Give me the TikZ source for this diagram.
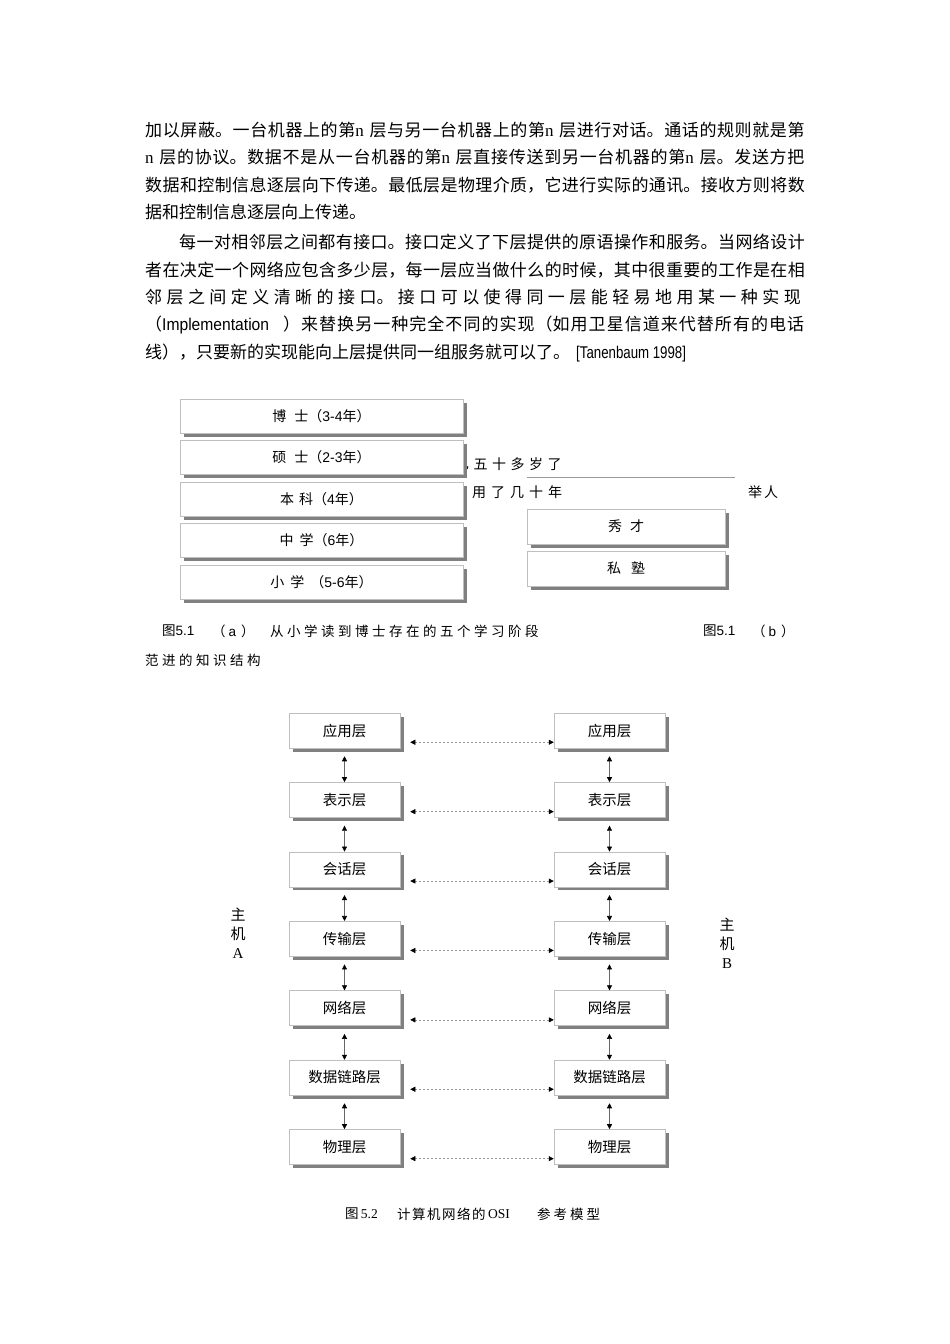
\documentclass[tikz,border=0pt]{standalone}
\usepackage{fontspec}
\setmainfont{Liberation Serif}
\setsansfont{Liberation Sans}
\newfontfamily\cjk{Noto Sans CJK SC}
\newfontfamily\narrow{Liberation Sans}[FakeStretch=0.92]
\newfontfamily\tightsans{Liberation Sans}[FakeStretch=0.78]
\usetikzlibrary{arrows.meta,shadows}
\newcommand\jsetup{\parindent=0pt\parfillskip=0pt\relax\leftskip=0pt\relax\rightskip=0pt\relax\XeTeXlinebreaklocale "zh"\XeTeXlinebreakskip=0pt plus 1fil\relax\XeTeXlinebreakpenalty=10000\relax\hbadness=10000\relax}
\newcommand\trk[2]{\parindent=0pt\relax\XeTeXlinebreaklocale "zh"\XeTeXlinebreakskip=#1\relax\XeTeXlinebreakpenalty=10000\relax #2}
\tikzset{
  bodytxt/.style={anchor=west, inner sep=0pt, font=\cjk\fontsize{17}{20}\selectfont},
  jl/.style={bodytxt, text width=#1},
  captxt/.style={anchor=west, inner sep=0pt, font=\cjk\fontsize{13.5}{16}\selectfont},
  tcaptxt/.style={captxt, text width=420pt, align=left},
  ftext/.style={anchor=west, inner sep=0pt, text width=300pt, align=left, font=\cjk\fontsize{14}{16}\selectfont},
  sbox/.style={draw=black!25, line width=0.5pt, fill=white, inner sep=0pt,
    drop shadow={shadow xshift=3.5pt, shadow yshift=-3.5pt, fill=black!50, opacity=1}},
  boxa/.style={sbox, minimum width=283pt, minimum height=34pt, font=\cjk\fontsize{14}{16}\selectfont},
  boxb/.style={sbox, minimum width=198pt, minimum height=35pt, font=\cjk\fontsize{14}{16}\selectfont},
  osibox/.style={sbox, minimum width=111pt, minimum height=35pt, font=\cjk\fontsize{14.5}{17}\selectfont},
  varr/.style={draw=black!60, line width=0.6pt, {Triangle[length=5pt, width=5pt, color=black]}-{Triangle[length=5pt, width=5pt, color=black]}},
  harr/.style={draw=black!40, line width=0.5pt, dash pattern=on 2pt off 2pt, {Triangle[length=5pt, width=5pt, color=black]}-{Triangle[length=5pt, width=5pt, color=black]}},
  hosttxt/.style={inner sep=0pt, align=center, font=\cjk\fontsize{15}{19}\selectfont},
}
\begin{document}
\begin{tikzpicture}[x=1pt, y=-1pt]
\useasboundingbox (0,0) rectangle (950,1344);
\fill[white] (0,0) rectangle (950,1344);

% ---------- body text ----------
\node[jl=660pt] (p1) at (145,130) {\jsetup 加以屏蔽。一台机器上的第{\rmfamily n} 层与另一台机器上的第{\rmfamily n} 层进行对话。通话的规则就是第};
\node[jl=660pt] (p2) at (145,157) {\jsetup {\rmfamily n} 层的协议。数据不是从一台机器的第{\rmfamily n} 层直接传送到另一台机器的第{\rmfamily n} 层。发送方把};
\node[jl=660pt] (p3) at (145,185) {\jsetup 数据和控制信息逐层向下传递。最低层是物理介质，它进行实际的通讯。接收方则将数};
\node[bodytxt] (p4) at (145,212) {据和控制信息逐层向上传递。};
\node[jl=626pt] (p5) at (179,242) {\jsetup 每一对相邻层之间都有接口。接口定义了下层提供的原语操作和服务。当网络设计};
\node[jl=660pt] (p6) at (145,270) {\jsetup 者在决定一个网络应包含多少层，每一层应当做什么的时候，其中很重要的工作是在相};
\node[jl=660pt] (p7) at (145,297) {\jsetup 邻层之间定义清晰的接口。接口可以使得同一层能轻易地用某一种实现};
\node[jl=660pt] (p8) at (145,325) {\jsetup （{\narrow Implementation}\hspace{14pt}）来替换另一种完全不同的实现（如用卫星信道来代替所有的电话};
\node[bodytxt] (p9) at (145,353) {线），只要新的实现能向上层提供同一组服务就可以了。\hspace{6pt}{\tightsans [Tanenbaum 1998]}};

% ---------- figure 5.1 (b) texts (behind boxes) ----------
\node[ftext] (t1) at (455,464) {\trk{4.5pt}{已五十多岁了}};
\node[ftext] (t2) at (472,492) {\trk{5pt}{用了几十年}};
\node[ftext] (t3) at (748,492) {\trk{2pt}{举人}};
\coordinate (hl1) at (527,477);
\coordinate (hl2) at (735,477);
\draw[black!40, line width=0.5pt] (hl1) -- (hl2);

% ---------- figure 5.1 (a) ----------
\node[boxa] (a1) at (321.5,416) {博\hspace{8pt}士（{\sffamily 3-4}年）};
\node[boxa] (a2) at (321.5,457) {硕\hspace{8pt}士（{\sffamily 2-3}年）};
\node[boxa] (a3) at (321.5,499) {本\hspace{5pt}科（{\sffamily 4}年）};
\node[boxa] (a4) at (321.5,540) {中\hspace{6pt}学（{\sffamily 6}年）};
\node[boxa] (a5) at (321.5,582) {小\hspace{6pt}学\hspace{6pt}（{\sffamily 5-6}年）};

% ---------- figure 5.1 (b) boxes ----------
\node[boxb] (b1) at (626,526.5) {秀\hspace{8pt}才};
\node[boxb] (b2) at (626,568.5) {私\hspace{10pt}塾};

% ---------- captions 5.1 ----------
\node[captxt] (c1) at (162,631) {图{\sffamily 5.1}};
\node[captxt] (c2) at (212,631) {（\hspace{3pt}{\sffamily a}\hspace{5pt}）};
\node[tcaptxt] (c3) at (270,631) {\trk{3.5pt}{从小学读到博士存在的五个学习阶段}};
\node[captxt] (c4) at (703,631) {图{\sffamily 5.1}};
\node[captxt] (c5) at (752,631) {（\hspace{3pt}{\sffamily b}\hspace{5pt}）};
\node[tcaptxt] (c6) at (145,660) {\trk{3.5pt}{范进的知识结构}};

% ---------- figure 5.2 ----------
\node[osibox] (L1) at (344.5,730.5) {应用层};
\node[osibox] (L2) at (344.5,799.9) {表示层};
\node[osibox] (L3) at (344.5,869.3) {会话层};
\node[osibox] (L4) at (344.5,938.7) {传输层};
\node[osibox] (L5) at (344.5,1008.1) {网络层};
\node[osibox] (L6) at (344.5,1077.5) {数据链路层};
\node[osibox] (L7) at (344.5,1146.9) {物理层};
\node[osibox] (R1) at (609.5,730.5) {应用层};
\node[osibox] (R2) at (609.5,799.9) {表示层};
\node[osibox] (R3) at (609.5,869.3) {会话层};
\node[osibox] (R4) at (609.5,938.7) {传输层};
\node[osibox] (R5) at (609.5,1008.1) {网络层};
\node[osibox] (R6) at (609.5,1077.5) {数据链路层};
\node[osibox] (R7) at (609.5,1146.9) {物理层};

\foreach \i/\j in {1/2,2/3,3/4,4/5,5/6,6/7}{
  \draw[varr] ([yshift=-8pt]L\i.south) -- (L\j.north);
  \draw[varr] ([yshift=-8pt]R\i.south) -- (R\j.north);
}
\foreach \i in {1,...,7}{
  \draw[harr] ([shift={(10pt,6pt)}]L\i.south east) -- ([yshift=6pt]R\i.south west);
}

\node[hosttxt] (hA) at (238,933) {主\\机\\{\rmfamily A}};
\node[hosttxt] (hB) at (727,943) {主\\机\\{\rmfamily B}};

% ---------- caption 5.2 ----------
\node[captxt] (d1) at (345,1214) {图{\rmfamily\,5.2}};
\node[tcaptxt] (d2) at (397,1214) {\trk{1.5pt}{计算机网络的}};
\node[captxt] (d3) at (488,1214) {\rmfamily OSI};
\node[tcaptxt] (d4) at (537,1214) {\trk{3pt}{参考模型}};
\end{tikzpicture}
\end{document}
